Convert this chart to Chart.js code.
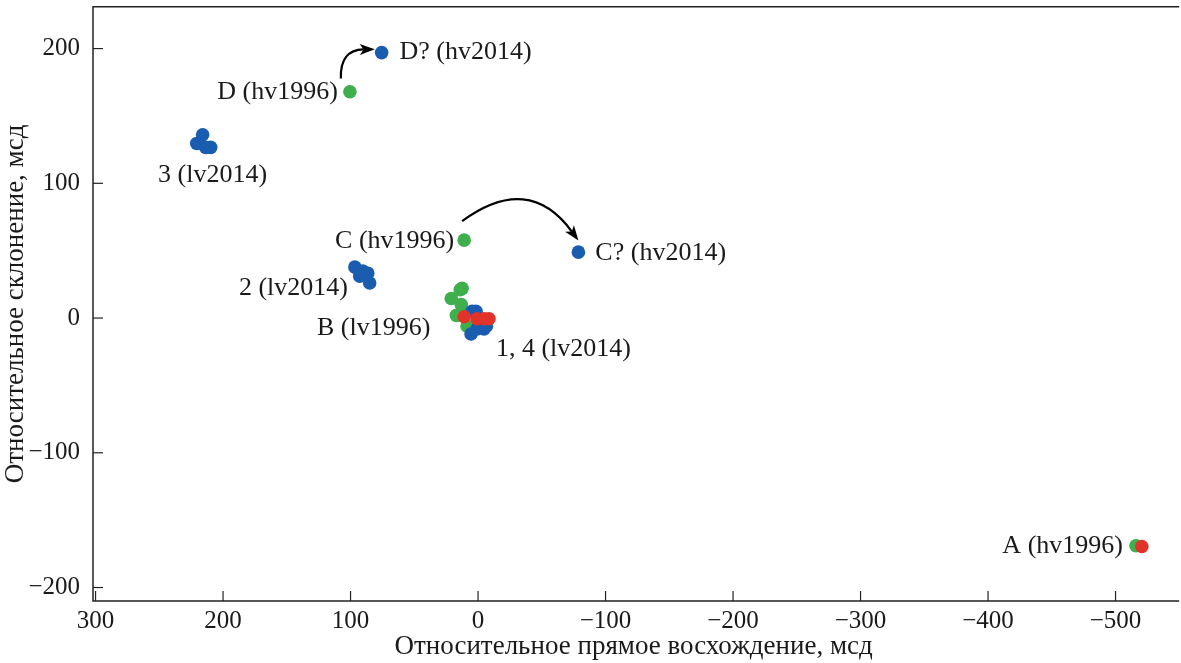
<!DOCTYPE html>
<html>
<head>
<meta charset="utf-8">
<script src="https://cdn.jsdelivr.net/npm/chart.js@4.4.1/dist/chart.umd.min.js"></script>
<style>
  html, body { margin: 0; padding: 0; background: #fff; }
  #wrap { width: 1181px; height: 663px; }
</style>
</head>
<body>
<div id="wrap"><canvas id="myChart"></canvas></div>
<script>
// datos (mсд)
const blueX = [75.6, 216, 220.6, 213.6, 209.7, 96.6, 90.4, 86.5, 92.8, 85, -78.7, 4.7, 1.6, 5.5, -4.7, -6.5, 0.8];
const blueY = [197, 136, 129.6, 126.7, 126.7, 37.8, 34.8, 33.3, 31, 26, 48.9, 5, 5, -11.8, -8, -6, -8];

const greenX = [100.5, 10.9, -516, 12.5, 21, 13.2, 17, 8.6, 14];
const greenY = [168, 57.8, -169, 22, 14.5, 10, 2, -6, 21];

const redX = [-520.6, 10.9, 0.8, -4.7, -8.6];
const redY = [-169.6, 1, -0.5, -0.5, -0.5];

const xTicks = [300, 200, 100, 0, -100, -200, -300, -400, -500];
const yTicks = [-200, -100, 0, 100, 200];

// etiquetas de los puntos
const labelText = ['D? (hv2014)', 'D (hv1996)', '3 (lv2014)', 'C (hv1996)', 'C? (hv2014)', '2 (lv2014)', 'B (lv1996)', '1, 4 (lv2014)', 'A (hv1996)'];
const labelX = [61.6, 109.9, 251, 18.7, -92, 102, 37.4, -14, -505.8];
const labelY = [197, 167.4, 106, 57, 48, 22, -7.4, -23, -169.6];
const labelAlign = ['left', 'right', 'left', 'right', 'left', 'right', 'right', 'left', 'right'];

// flechas: inicio, control, fin
const arrowStart = [[107.6, 177.8], [12.5, 71.9]];
const arrowCtrl = [[108.3, 199], [-39.7, 108]];
const arrowEnd = [[81, 199.5], [-78.7, 57.5]];

const serif = "'Liberation Serif', 'DejaVu Serif', serif";

function toPoints(xs, ys) {
    return xs.map((x, i) => ({ x: x, y: ys[i] }));
}

// plugin para el marco, ticks hacia adentro, etiquetas y flechas
const extras = {
    id: 'extras',
    afterDatasetsDraw(chart) {
        const ctx = chart.ctx;
        const xs = chart.scales.x;
        const ys = chart.scales.y;
        const area = chart.chartArea;
        ctx.save();
        ctx.strokeStyle = '#222';
        ctx.lineWidth = 1.5;
        ctx.beginPath();
        ctx.moveTo(area.right + 5, area.top);
        ctx.lineTo(area.left, area.top);
        ctx.lineTo(area.left, area.bottom);
        ctx.lineTo(area.right + 5, area.bottom);
        ctx.stroke();

        ctx.lineWidth = 1.2;
        xTicks.forEach(v => {
            const p = xs.getPixelForValue(v);
            ctx.beginPath();
            ctx.moveTo(p, area.bottom);
            ctx.lineTo(p, area.bottom - 10);
            ctx.stroke();
        });
        yTicks.forEach(v => {
            const p = ys.getPixelForValue(v);
            ctx.beginPath();
            ctx.moveTo(area.left, p);
            ctx.lineTo(area.left + 10, p);
            ctx.stroke();
        });

        ctx.fillStyle = '#1a1a1a';
        ctx.font = '26px ' + serif;
        ctx.textBaseline = 'middle';
        labelText.forEach((t, i) => {
            ctx.textAlign = labelAlign[i];
            ctx.fillText(t, xs.getPixelForValue(labelX[i]), ys.getPixelForValue(labelY[i]));
        });

        ctx.strokeStyle = '#000';
        ctx.fillStyle = '#000';
        ctx.lineWidth = 2.2;
        arrowStart.forEach((s, i) => {
            const x0 = xs.getPixelForValue(s[0]), y0 = ys.getPixelForValue(s[1]);
            const cx = xs.getPixelForValue(arrowCtrl[i][0]), cy = ys.getPixelForValue(arrowCtrl[i][1]);
            const x1 = xs.getPixelForValue(arrowEnd[i][0]), y1 = ys.getPixelForValue(arrowEnd[i][1]);
            const ang = Math.atan2(y1 - cy, x1 - cx);
            const len = 16;
            const bx = x1 - Math.cos(ang) * len * 0.7, by = y1 - Math.sin(ang) * len * 0.7;
            ctx.beginPath();
            ctx.moveTo(x0, y0);
            ctx.quadraticCurveTo(cx, cy, bx, by);
            ctx.stroke();
            ctx.beginPath();
            ctx.moveTo(x1, y1);
            ctx.lineTo(x1 - len * Math.cos(ang - 0.35), y1 - len * Math.sin(ang - 0.35));
            ctx.lineTo(bx, by);
            ctx.lineTo(x1 - len * Math.cos(ang + 0.35), y1 - len * Math.sin(ang + 0.35));
            ctx.closePath();
            ctx.fill();
        });
        ctx.restore();
    }
};

const ctx = document.getElementById('myChart');

const tickFmt = (v) => v < 0 ? '\u2212' + Math.abs(v) : '' + v;

// el primer dataset se dibuja arriba
const myChart = new Chart(ctx, {
    type: 'scatter',
    data: {
        datasets: [
            { label: 'red', data: toPoints(redX, redY), backgroundColor: '#e2332b', borderWidth: 0, pointRadius: 6.8 },
            { label: 'lv/hv2014', data: toPoints(blueX, blueY), backgroundColor: '#1a5cb0', borderWidth: 0, pointRadius: 6.8 },
            { label: 'hv/lv1996', data: toPoints(greenX, greenY), backgroundColor: '#3fae4c', borderWidth: 0, pointRadius: 6.8 }
        ]
    },
    options: {
        responsive: true,
        maintainAspectRatio: false,
        animation: false,
        layout: { padding: { top: 6, right: 0, bottom: 0, left: 0 } },
        plugins: {
            legend: { display: false },
            tooltip: { enabled: false }
        },
        scales: {
            x: {
                type: 'linear',
                reverse: true,
                min: -546,
                max: 302,
                grid: { display: false, drawTicks: false },
                border: { display: false },
                afterBuildTicks: (scale) => { scale.ticks = xTicks.map(v => ({ value: v })); },
                afterFit: (scale) => { scale.height = 62; scale.paddingLeft = 0; scale.paddingRight = 0; },
                ticks: {
                    color: '#1a1a1a',
                    padding: 5,
                    font: { family: serif, size: 25 },
                    callback: tickFmt
                },
                title: {
                    display: true,
                    text: 'Относительное прямое восхождение, мсд',
                    color: '#1a1a1a',
                    font: { family: serif, size: 27 },
                    padding: { top: 0, bottom: 0 }
                }
            },
            y: {
                type: 'linear',
                min: -210,
                max: 231,
                grid: { display: false, drawTicks: false },
                border: { display: false },
                afterBuildTicks: (scale) => { scale.ticks = yTicks.map(v => ({ value: v })); },
                afterFit: (scale) => { scale.width = 93; scale.paddingTop = 0; scale.paddingBottom = 0; },
                ticks: {
                    color: '#1a1a1a',
                    padding: 13,
                    font: { family: serif, size: 25 },
                    callback: tickFmt
                },
                title: {
                    display: true,
                    text: 'Относительное склонение, мсд',
                    color: '#1a1a1a',
                    font: { family: serif, size: 27 },
                    padding: { top: 0, bottom: 0 }
                }
            }
        }
    },
    plugins: [extras]
});
</script>
</body>
</html>
